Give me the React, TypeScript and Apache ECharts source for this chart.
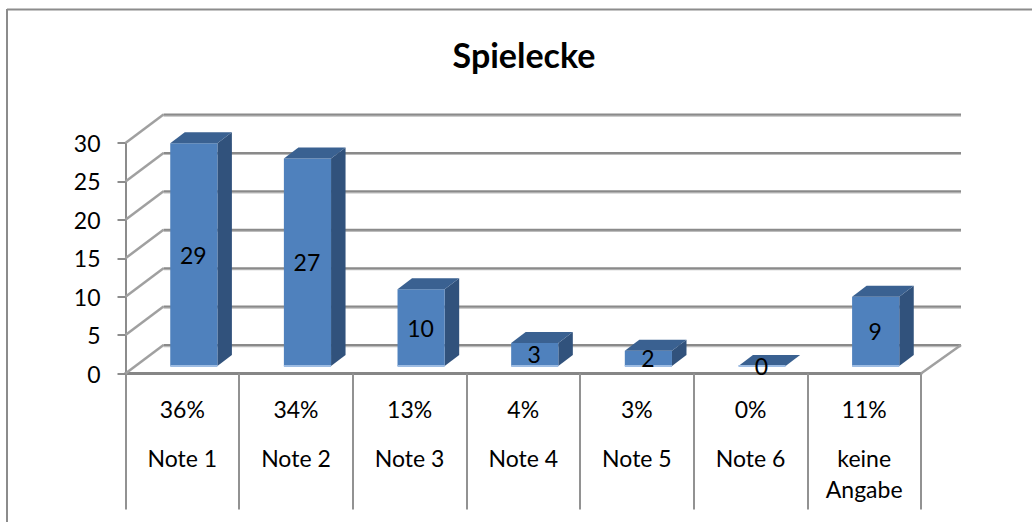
import React, { useEffect, useRef } from "react";
import * as echarts from "echarts";

const categories = ["Note 1", "Note 2", "Note 3", "Note 4", "Note 5", "Note 6", "keine\nAngabe"];
const percents = ["36%", "34%", "13%", "4%", "3%", "0%", "11%"];
const values = [29, 27, 10, 3, 2, 0, 9];
const gridValues = [0, 5, 10, 15, 20, 25, 30];

const FONT = "Lato";
const FS = 23;
const GRID = { left: 125.5, top: 143, width: 795.5, height: 230.5 };
const DEPTH_X = 38;
const DEPTH_Y = 28.5;

export default function App() {
  const ref = useRef<HTMLDivElement>(null);
  useEffect(() => {
    document.body.style.margin = "0";
    const chart = echarts.init(ref.current!, null, { renderer: "svg" });
    chart.setOption({
      animation: false,
      backgroundColor: "#ffffff",
      title: {
        text: "Spielecke",
        left: 519,
        top: 32,
        textAlign: "center",
        textStyle: { fontFamily: FONT, fontSize: 34, fontWeight: "bold", color: "#000" },
      },
      graphic: [
        { type: "line", shape: { x1: 7, y1: 9.5, x2: 1032, y2: 9.5 }, style: { stroke: "#8c8c8c", lineWidth: 2 } },
        { type: "line", shape: { x1: 7, y1: 9, x2: 7, y2: 522 }, style: { stroke: "#8c8c8c", lineWidth: 2 } },
      ],
      grid: { left: GRID.left, top: GRID.top, width: GRID.width, height: GRID.height, containLabel: false },
      xAxis: [
        {
          type: "category",
          data: percents,
          position: "bottom",
          axisLine: { show: true, lineStyle: { color: "#868686", width: 3 } },
          axisTick: { show: true, length: 136, lineStyle: { color: "#929292", width: 2 } },
          axisLabel: { fontFamily: FONT, fontSize: FS, color: "#000", margin: 24, interval: 0 },
        },
        {
          type: "category",
          data: categories,
          position: "bottom",
          axisLine: { show: false },
          axisTick: { show: false },
          axisLabel: { fontFamily: FONT, fontSize: FS, color: "#000", margin: 69, interval: 0, lineHeight: 31, verticalAlign: "top" },
        },
      ],
      yAxis: {
        type: "value",
        min: 0,
        max: 30,
        interval: 5,
        axisLine: { show: true, lineStyle: { color: "#8c8c8c", width: 2 } },
        axisTick: { show: true, length: 8, lineStyle: { color: "#8c8c8c", width: 2 } },
        axisLabel: { fontFamily: FONT, fontSize: FS, color: "#000", margin: 25 },
        splitLine: { show: false },
      },
      series: [
        {
          type: "custom",
          silent: true,
          z: 1,
          data: gridValues,
          encode: { y: 0 },
          renderItem: (_p: any, api: any) => {
            const v = api.value(0);
            const [, y] = api.coord([0, v]);
            const x0 = GRID.left;
            const x1 = GRID.left + GRID.width;
            const xEnd = x1 + DEPTH_X + 2;
            const stroke = "#8a8a8a";
            const children: any[] = [
              { type: "line", shape: { x1: x0, y1: y, x2: x0 + DEPTH_X, y2: y - DEPTH_Y }, style: { stroke: "#a0a0a0", lineWidth: 2.5 } },
              { type: "line", shape: { x1: x0 + DEPTH_X, y1: y - DEPTH_Y + 1.2, x2: xEnd, y2: y - DEPTH_Y + 1.2 }, style: { stroke: "#bdbdbd", lineWidth: 2 } },
              { type: "line", shape: { x1: x0 + DEPTH_X, y1: y - DEPTH_Y, x2: xEnd, y2: y - DEPTH_Y }, style: { stroke, lineWidth: 2 } },
            ];
            if (v === 0) {
              children.push({ type: "line", shape: { x1, y1: y, x2: xEnd, y2: y - DEPTH_Y }, style: { stroke: "#a0a0a0", lineWidth: 2.5 } });
            }
            return { type: "group", children };
          },
        },
        {
          type: "custom",
          silent: true,
          z: 3,
          data: values.map((v, i) => [i, v]),
          encode: { x: 0, y: 1 },
          xAxisIndex: 0,
          renderItem: (_p: any, api: any) => {
            const i = api.value(0);
            const v = api.value(1);
            const [cx, yz] = api.coord([i, 0]);
            const [, yv] = api.coord([i, v]);
            const band = api.size([1, 0])[0];
            const w = band * 0.415;
            const lift = 7.5;
            const shift = 11.5;
            const dx = 14.5;
            const dy = 11;
            const l = cx + shift - w / 2;
            const r = l + w;
            const b = yz - lift;
            const t = yv - lift;
            const kids: any[] = [];
            if (v > 0) {
              kids.push({
                type: "polygon",
                shape: { points: [[r, t], [r + dx, t - dy], [r + dx, b - dy], [r, b]] },
                style: { fill: "#31527c" },
              });
              kids.push({ type: "rect", shape: { x: l, y: t, width: w, height: b - t }, style: { fill: "#4f81bd" } });
            }
            kids.push({
              type: "polygon",
              shape: { points: [[l, t], [l + dx, t - dy], [r + dx, t - dy], [r, t]] },
              style: { fill: "#3a6191" },
            });
            kids.push({ type: "rect", shape: { x: l, y: b - 1, width: w, height: 2 }, style: { fill: "#9dbce3" } });
            kids.push({
              type: "text",
              style: {
                x: (l + r) / 2 - 0.5,
                y: (t + b) / 2,
                text: String(v),
                align: "center",
                verticalAlign: "middle",
                fontFamily: FONT,
                fontSize: FS,
                fill: "#000",
              },
            });
            return { type: "group", children: kids };
          },
        },
      ],
    });
    return () => chart.dispose();
  }, []);
  return <div ref={ref} style={{ width: 1032, height: 522 }} />;
}
